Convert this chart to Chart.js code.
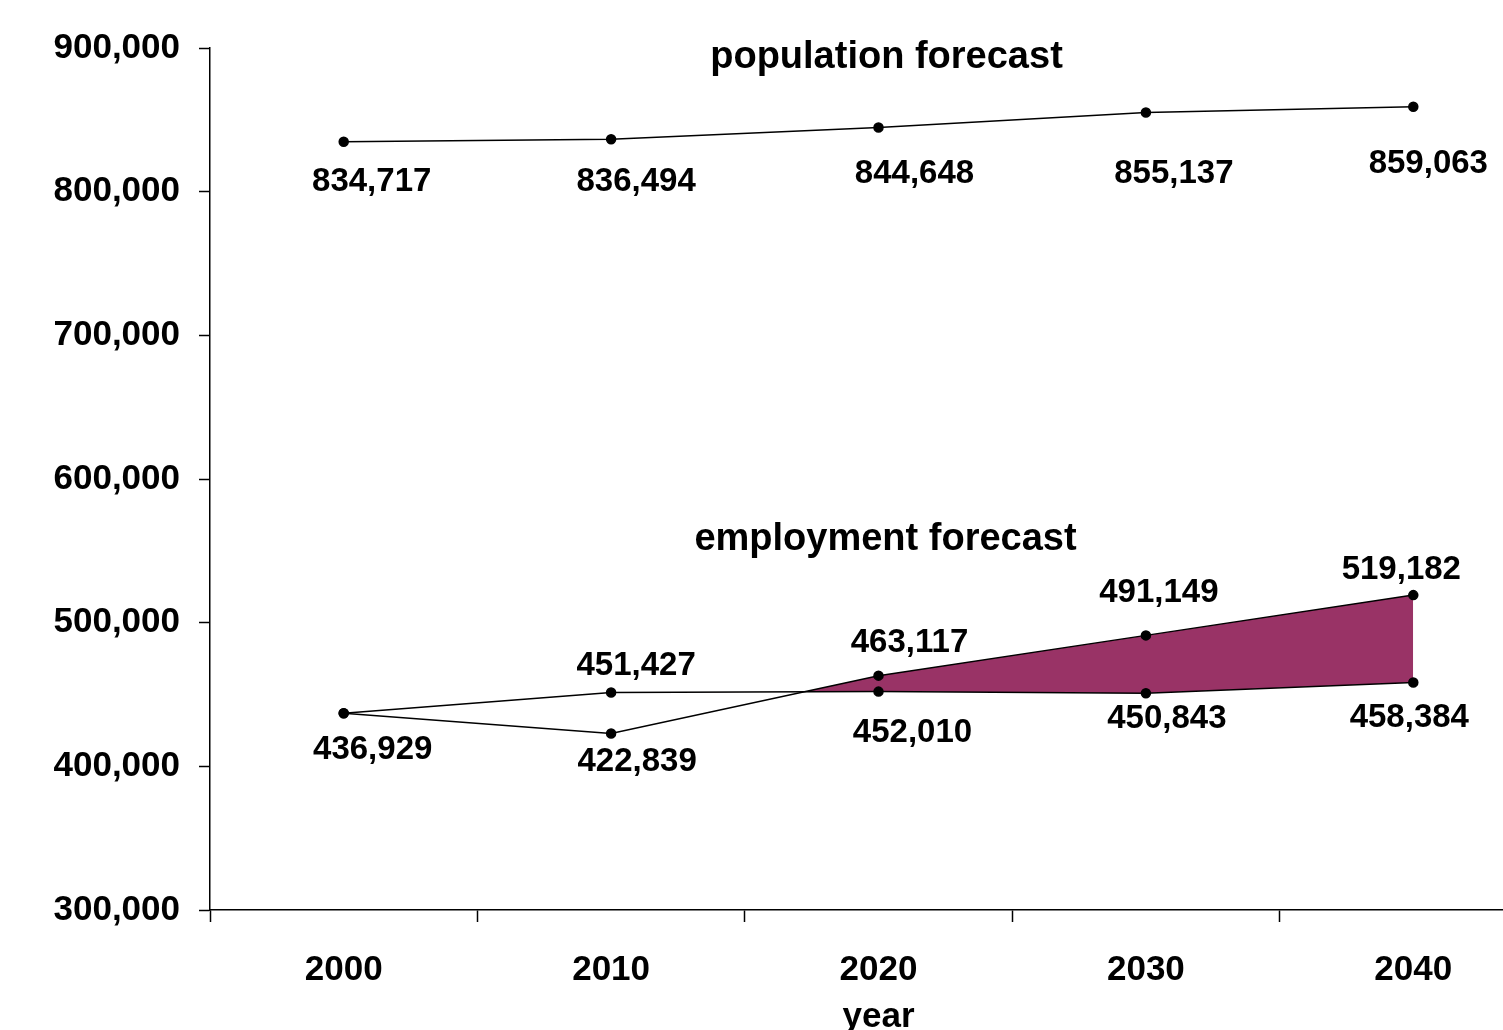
<!DOCTYPE html>
<html>
<head>
<meta charset="utf-8">
<script src="https://cdn.jsdelivr.net/npm/chart.js@4/dist/chart.umd.min.js"></script>
<style>
  html, body { margin: 0; padding: 0; background: #fff; overflow: hidden; }
  #wrap { width: 1503px; height: 1030px; overflow: hidden; }
</style>
</head>
<body>
<div id="wrap"><canvas id="chart" width="1553" height="1030"></canvas></div>
<script>
// data
const years = ['2000', '2010', '2020', '2030', '2040'];
const population = [834717, 836494, 844648, 855137, 859063];
const employmentLow = [436929, 451427, 452010, 450843, 458384];
const employmentHigh = [436929, 422839, 463117, 491149, 519182];
const yTicks = [300000, 400000, 500000, 600000, 700000, 800000, 900000];

// where each value label sits relative to its point (px)
const popLabelOffset = [[28, 40], [25, 43], [36, 46], [28, 61], [15, 57]];
const lowLabelOffset = [null, [25, -27], [34, 41], [21, 26], [-4, 35]];
const highLabelOffset = [[29, 37], [26, 28], [31, -33], [13, -42], [-12, -25]];

const FONT = '"Liberation Sans", Arial, sans-serif';
const fmt = v => v.toLocaleString('en-US');

const labelsPlugin = {
    id: 'valueLabels',
    afterDatasetsDraw(chart) {
        const ctx = chart.ctx;
        const xs = chart.scales.x, ys = chart.scales.y;
        ctx.save();
        ctx.fillStyle = '#000';
        ctx.textAlign = 'center';
        ctx.textBaseline = 'middle';
        ctx.font = 'bold 33px ' + FONT;
        chart.data.datasets.forEach((ds, i) => {
            const meta = chart.getDatasetMeta(i);
            meta.data.forEach((pt, j) => {
                const off = ds.labelOffset[j];
                if (!off) return;
                ctx.fillText(fmt(ds.data[j]), pt.x + off[0], pt.y + off[1]);
            });
        });
        // the two headings
        ctx.font = 'bold 38px ' + FONT;
        ctx.fillText('population forecast', xs.getPixelForValue(2) + 8, ys.getPixelForValue(893700));
        ctx.fillText('employment forecast', xs.getPixelForValue(2) + 7, ys.getPixelForValue(558200));
        ctx.restore();
    }
};

const lineStyle = {
    borderColor: '#000',
    borderWidth: 1.5,
    pointRadius: 4.5,
    pointBackgroundColor: '#000',
    pointBorderColor: '#000',
    tension: 0
};

new Chart(document.getElementById('chart'), {
    type: 'line',
    data: {
        labels: years,
        datasets: [
            Object.assign({ label: 'population', data: population, fill: false, labelOffset: popLabelOffset }, lineStyle),
            Object.assign({ label: 'employment low', data: employmentLow, fill: false, labelOffset: lowLabelOffset }, lineStyle),
            Object.assign({
                label: 'employment high', data: employmentHigh, labelOffset: highLabelOffset,
                fill: { target: 1, above: '#993366', below: 'rgba(0,0,0,0)' }
            }, lineStyle)
        ]
    },
    options: {
        responsive: false,
        animation: false,
        layout: { padding: { top: 48, left: 0, right: 0, bottom: 0 } },
        plugins: {
            legend: { display: false },
            tooltip: { enabled: false },
            filler: { propagate: false }
        },
        scales: {
            x: {
                offset: true,
                grid: { offset: true, drawOnChartArea: false, drawTicks: true, tickLength: 12, tickColor: '#000', tickWidth: 1.5 },
                border: { color: '#000', width: 1.5 },
                ticks: { color: '#000', font: { family: FONT, size: 35, weight: 'bold' }, padding: 27, maxRotation: 0 },
                title: { display: true, text: 'year', color: '#000', font: { family: FONT, size: 35, weight: 'bold' }, padding: { top: 0, bottom: -8 } },
                afterFit(scale) { scale.height = 120; }
            },
            y: {
                min: 300000,
                max: 900000,
                afterBuildTicks(scale) { scale.ticks = yTicks.map(v => ({ value: v })); },
                grid: { drawOnChartArea: false, drawTicks: true, tickLength: 11, tickColor: '#000', tickWidth: 1.5 },
                border: { color: '#000', width: 1.5 },
                ticks: { color: '#000', font: { family: FONT, size: 35, weight: 'bold' }, padding: 19, callback: v => fmt(v) },
                afterFit(scale) { scale.width = 210; }
            }
        }
    },
    plugins: [labelsPlugin]
});
</script>
</body>
</html>
